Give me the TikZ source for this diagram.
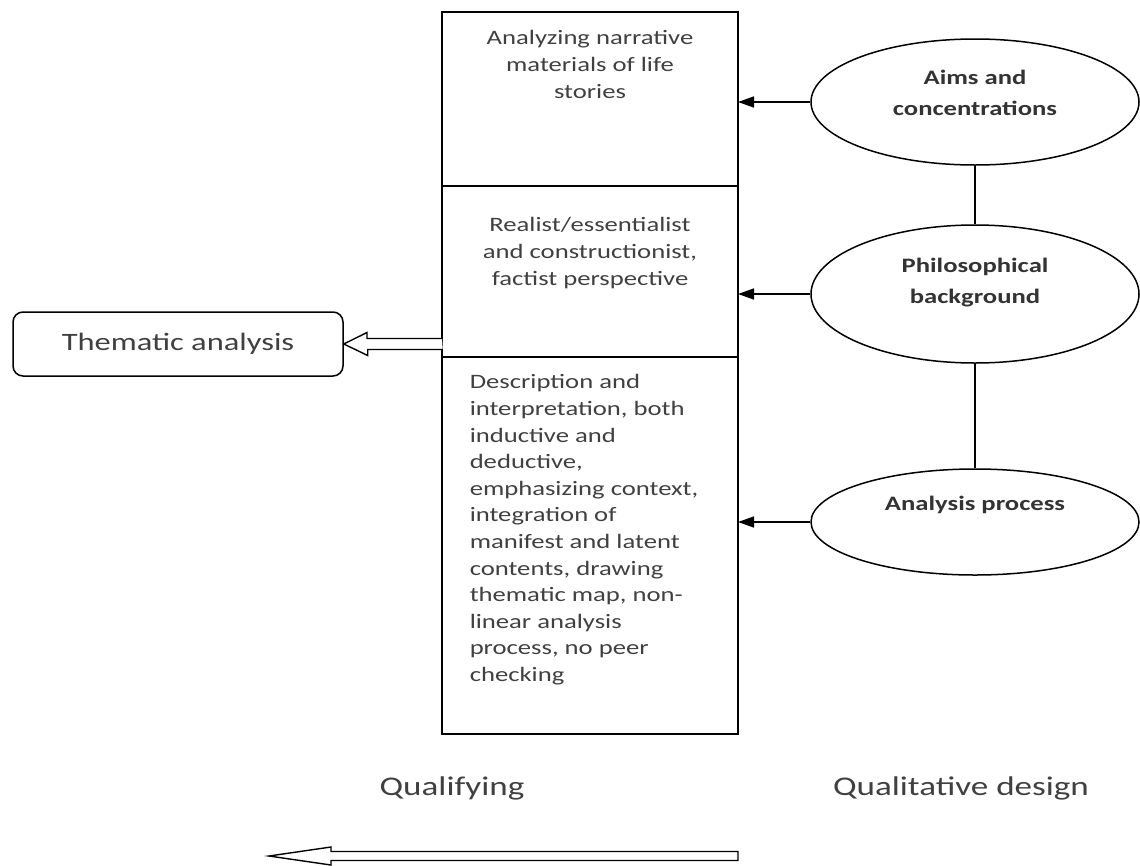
\documentclass[tikz,border=0pt]{standalone}
\usepackage{fontspec}
\setmainfont{Carlito}[FakeStretch=1.3]
\usetikzlibrary{positioning,shapes.geometric,arrows.meta}

\tikzset{
  part/.style={draw, minimum width=296pt, inner sep=0pt, outer sep=0pt},
  oval/.style={draw, ellipse, minimum width=328pt, inner sep=0pt},
  txt/.style={font=\fontsize{20.5}{26.6}\selectfont, text=black!75, inner sep=0pt},
  btxt/.style={font=\fontsize{20.5}{31}\selectfont\bfseries, text=black!80, align=center, inner sep=0pt},
  big/.style={font=\fontsize{27}{32}\selectfont, text=black!75},
  hollow/.style={draw, fill=white, line width=1.4pt, line join=miter},
  tip/.style={-{Triangle[length=16pt,width=11pt]}}
}

\begin{document}
\begin{tikzpicture}[x=1pt, y=-1pt, line width=1.5pt]
        \useasboundingbox (0,0) rectangle (1140,865);

        % Nodes
        \node[part, minimum height=174pt] (Top) at (590,99) {};
        \node[part, minimum height=171pt, below=0pt of Top] (Mid) {};
        \node[part, minimum height=377pt, below=0pt of Mid] (Bot) {};

        \node[txt, align=center, anchor=north] (TopT) at ([yshift=-18pt]Top.north)
            {Analyzing narrative\\materials of life\\stories};
        \node[txt, align=center, anchor=north] (MidT) at ([yshift=-31pt]Mid.north)
            {Realist/essentialist\\and constructionist,\\factist perspective};
        \node[txt, align=left, anchor=north west] (BotT) at ([xshift=27pt,yshift=-17pt]Bot.north west)
            {Description and\\interpretation, both\\inductive and\\deductive,\\emphasizing context,\\integration of\\manifest and latent\\contents, drawing\\thematic map, non-\\linear analysis\\process, no peer\\checking};

        \node[oval, minimum height=126pt] (Aims) at (975,102) {};
        \node[oval, minimum height=138pt] (Phil) at (975,294) {};
        \node[oval, minimum height=106pt] (Proc) at (975,522) {};
        \node[btxt] (AimsT) at ([yshift=9pt]Aims.center) {Aims and\\concentrations};
        \node[btxt] (PhilT) at ([yshift=11pt]Phil.center) {Philosophical\\background};
        \node[btxt] (ProcT) at ([yshift=17pt]Proc.center) {Analysis process};

        \node[draw, rounded corners=10pt, minimum width=330pt, minimum height=64pt,
              font=\fontsize{25}{30}\selectfont, text=black!75] (TA) at (178,344) {Thematic analysis};

        \node[big] (Qf) at (452,788) {Qualifying};
        \node[big] (QD) at (961,788) {Qualitative design};
        \coordinate (Q) at (738,856);

        % Arrows
        \draw[tip] (Aims.west) -- (Aims.west -| Top.east);
        \draw[tip] (Phil.west) -- (Phil.west -| Mid.east);
        \draw[tip] (Proc.west) -- (Proc.west -| Bot.east);
        \draw (Aims.south) -- (Phil.north);
        \draw (Phil.south) -- (Proc.north);

        \draw[hollow] (TA.east -| Mid.west) ++(0,-5.5) -- ++(-75,0) -- ++(0,-6) -- (TA.east)
            -- ++(24,11.5) -- ++(0,-6) -- ++(75,0);
        \draw[hollow] (Q) ++(0,-4.5) -- ++(-407,0) -- ++(0,-4.5) -- ++(-62,9) -- ++(62,9)
            -- ++(0,-4.5) -- ++(407,0) -- cycle;
\end{tikzpicture}
\end{document}
